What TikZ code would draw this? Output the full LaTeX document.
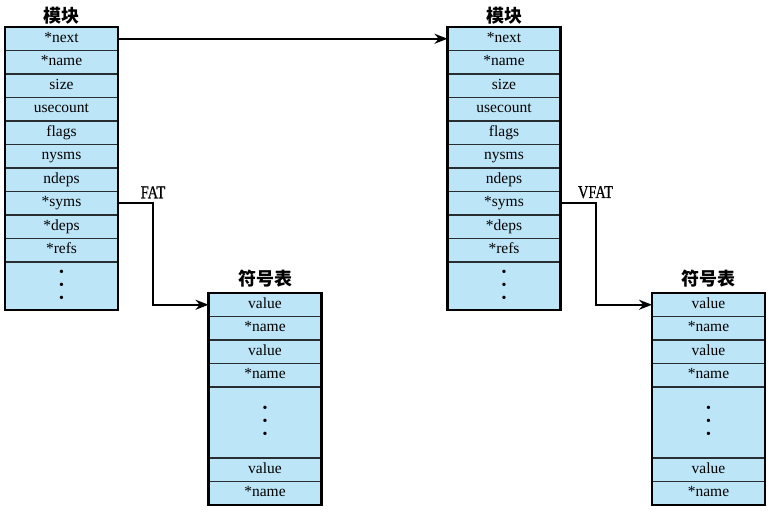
\documentclass[tikz,border=0pt]{standalone}
\usepackage{fontspec}
\setmainfont{Liberation Serif}
\newfontfamily\cjkfont{Noto Sans CJK SC}
\newfontfamily\tagfont{Liberation Serif}[FakeStretch=0.8,FakeBold=0.6]
\usetikzlibrary{positioning,arrows.meta}

\definecolor{cellblue}{RGB}{189,229,248}
\definecolor{cellline}{RGB}{40,45,50}

\tikzstyle{cell} = [draw=cellline, line width=1.2pt, fill=cellblue, minimum width=113pt, minimum height=23.5pt, inner sep=0pt, outer sep=0pt]
\tikzstyle{field} = [cell, text height=10.5pt, text depth=3.5pt, font=\fontsize{15.5}{17}\selectfont]
\tikzstyle{dotcell} = [cell, align=center, font=\fontsize{14}{13}\selectfont]
\tikzstyle{boxframe} = [draw=black, line width=2.2pt]
\tikzstyle{heading} = [inner sep=0pt, font=\cjkfont\bfseries\fontsize{18}{18}\selectfont]
\tikzstyle{link} = [draw=black, line width=2pt, -{Stealth[length=13pt,width=10pt]}]
\tikzstyle{tag} = [inner sep=4pt, font=\tagfont\fontsize{18}{18}\selectfont]

\begin{document}
\begin{tikzpicture}[x=1pt, y=-1pt]
\useasboundingbox (0,0) rectangle (775,514);

% first module
\node[field] (m1next) at (61.5,38.75) {*next};
\node[field, below=0pt of m1next] (m1name) {*name};
\node[field, below=0pt of m1name] (m1size) {size};
\node[field, below=0pt of m1size] (m1use) {usecount};
\node[field, below=0pt of m1use] (m1flags) {flags};
\node[field, below=0pt of m1flags] (m1nsyms) {nysms};
\node[field, below=0pt of m1nsyms] (m1ndeps) {ndeps};
\node[field, below=0pt of m1ndeps] (m1syms) {*syms};
\node[field, below=0pt of m1syms] (m1deps) {*deps};
\node[field, below=0pt of m1deps] (m1refs) {*refs};
\node[dotcell, minimum height=48pt, below=0pt of m1refs] (m1dots) {\textbullet\\\textbullet\\\textbullet};
\draw[boxframe] (m1next.north west) rectangle (m1dots.south east);
\node[heading, above=3pt of m1next] (m1title) {模块};

% second module
\node[field] (m2next) at (504,38.75) {*next};
\node[field, below=0pt of m2next] (m2name) {*name};
\node[field, below=0pt of m2name] (m2size) {size};
\node[field, below=0pt of m2size] (m2use) {usecount};
\node[field, below=0pt of m2use] (m2flags) {flags};
\node[field, below=0pt of m2flags] (m2nsyms) {nysms};
\node[field, below=0pt of m2nsyms] (m2ndeps) {ndeps};
\node[field, below=0pt of m2ndeps] (m2syms) {*syms};
\node[field, below=0pt of m2syms] (m2deps) {*deps};
\node[field, below=0pt of m2deps] (m2refs) {*refs};
\node[dotcell, minimum height=48pt, below=0pt of m2refs] (m2dots) {\textbullet\\\textbullet\\\textbullet};
\draw[boxframe] (m2next.north west) rectangle (m2dots.south east);
\node[heading, above=3pt of m2next] (m2title) {模块};

% symbol table of the first module
\node[field] (s1val) at (265,304.75) {value};
\node[field, below=0pt of s1val] (s1name) {*name};
\node[field, below=0pt of s1name] (s1valb) {value};
\node[field, below=0pt of s1valb] (s1nameb) {*name};
\node[dotcell, minimum height=71pt, below=0pt of s1nameb] (s1dots) {\textbullet\\\textbullet\\\textbullet};
\node[field, below=0pt of s1dots] (s1valz) {value};
\node[field, below=0pt of s1valz] (s1namez) {*name};
\draw[boxframe] (s1val.north west) rectangle (s1namez.south east);
\node[heading, above=6pt of s1val] (s1title) {符号表};

% symbol table of the second module
\node[field] (s2val) at (708.5,304.75) {value};
\node[field, below=0pt of s2val] (s2name) {*name};
\node[field, below=0pt of s2name] (s2valb) {value};
\node[field, below=0pt of s2valb] (s2nameb) {*name};
\node[dotcell, minimum height=71pt, below=0pt of s2nameb] (s2dots) {\textbullet\\\textbullet\\\textbullet};
\node[field, below=0pt of s2dots] (s2valz) {value};
\node[field, below=0pt of s2valz] (s2namez) {*name};
\draw[boxframe] (s2val.north west) rectangle (s2namez.south east);
\node[heading, above=6pt of s2val] (s2title) {符号表};

% pointers
\draw[link] (m1next.east) -- (m2next.west);
\draw[link] (m1syms.east) -- ++(35,0) node[tag, above] (fat) {FAT} |- (s1val.west);
\draw[link] (m2syms.east) -- ++(35,0) node[tag, above] (vfat) {VFAT} |- (s2val.west);
\end{tikzpicture}
\end{document}
